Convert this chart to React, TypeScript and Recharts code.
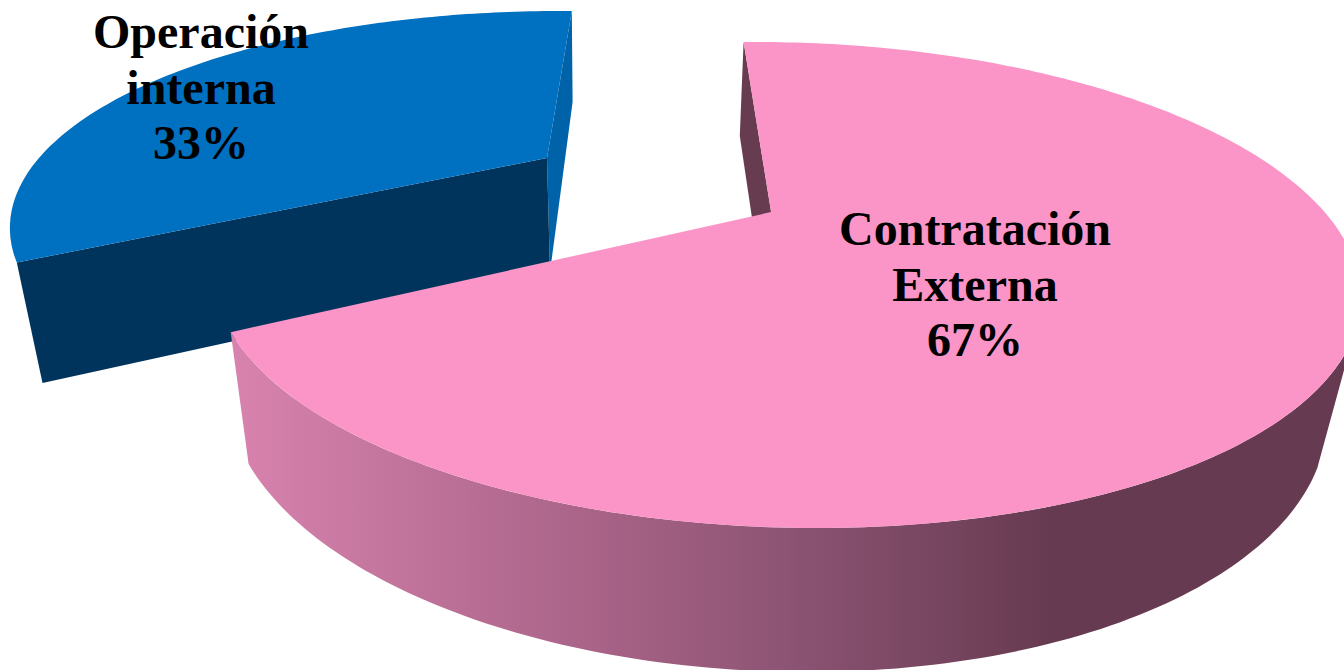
import { Pie, PieChart } from "recharts";

const categories = ["Operación interna", "Contratación Externa"];
const shares = [33, 67];
const sliceColors = ["#0070c0", "#fb95c7"];

const data = categories.map((name, i) => ({ name, value: shares[i], fill: sliceColors[i] }));

type Rim = { cx: number; cy: number; rx: number; ry: number; sk: number; px: number; py: number; rot: number; k: number };

// tilted discs: top and bottom rim of each exploded slice
const rims: Record<string, { top: Rim; low: Rim }> = {
  "Operación interna": {
    top: { cx: 570, cy: 232, rx: 560, ry: 221, sk: 10, px: -0.035, py: 0.335, rot: -5.2, k: 1.0244 },
    low: { cx: 575, cy: 337, rx: 543, ry: 235, sk: 0, px: -0.046, py: 0.277, rot: -3.8, k: 1.0126 },
  },
  "Contratación Externa": {
    top: { cx: 787, cy: 285, rx: 573, ry: 243, sk: 30, px: -0.012, py: 0.3, rot: 0, k: 1.0072 },
    low: { cx: 777, cy: 404, rx: 549, ry: 268, sk: 30, px: 0, py: 0.276, rot: 0, k: 1.0072 },
  },
};

const labelCenters: Record<string, { x: number; y: number }> = {
  "Operación interna": { x: 201, y: 48 },
  "Contratación Externa": { x: 975, y: 245 },
};

const WALL_END = -28;
const PIVOT = 91;

function project(rim: Rim, deg: number) {
  const a = ((PIVOT + (deg - PIVOT) * rim.k + rim.rot) * Math.PI) / 180;
  const x = Math.cos(a);
  const y = Math.sin(a);
  const s = Math.hypot(rim.px, rim.py);
  const ux = rim.px / s;
  const uy = rim.py / s;
  const par = x * ux + y * uy;
  const perp = -x * uy + y * ux;
  const w = 1 + s * par;
  const par2 = (par + s) / w;
  const perp2 = (perp * Math.sqrt(1 - s * s)) / w;
  const X = par2 * ux - perp2 * uy;
  const Y = par2 * uy + perp2 * ux;
  return { x: rim.cx + rim.rx * X - rim.sk * Y, y: rim.cy - rim.ry * Y };
}

function apexOf(rim: Rim) {
  return { x: rim.cx + rim.rx * rim.px - rim.sk * rim.py, y: rim.cy - rim.ry * rim.py };
}

function arc(rim: Rim, from: number, to: number) {
  const steps = Math.max(2, Math.ceil(Math.abs(to - from)));
  const pts = [];
  for (let i = 0; i <= steps; i++) {
    pts.push(project(rim, from + ((to - from) * i) / steps));
  }
  return pts;
}

function toPath(pts: { x: number; y: number }[]) {
  return "M" + pts.map((p) => `${p.x.toFixed(1)},${p.y.toFixed(1)}`).join("L") + "Z";
}

function Slice(props: any) {
  const { name, startAngle, endAngle, fill } = props;
  const { top, low } = rims[name];
  const topApex = apexOf(top);
  const lowApex = apexOf(low);
  const face = toPath([topApex, ...arc(top, startAngle, endAngle)]);
  const cutFace = toPath([
    project(top, startAngle),
    topApex,
    lowApex,
    project(low, startAngle),
  ]);

  if (name === categories[0]) {
    const frontFace = toPath([
      topApex,
      project(top, startAngle),
      project(low, startAngle),
      lowApex,
    ]);
    return (
      <g>
        <path d={toPath([project(top, endAngle), topApex, lowApex, project(low, endAngle)])} fill="#0062a8" />
        <path d={frontFace} fill="#00345c" />
        <path d={face} fill={fill} />
      </g>
    );
  }

  const wall = toPath([...arc(top, endAngle, WALL_END), ...arc(low, WALL_END, endAngle)]);
  return (
    <g>
      <defs>
        <linearGradient id="pinkWall" gradientUnits="userSpaceOnUse" x1="231" y1="0" x2="1344" y2="0">
          <stop offset="0" stopColor="#d883ae" />
          <stop offset="0.33" stopColor="#a86387" />
          <stop offset="0.51" stopColor="#8b5372" />
          <stop offset="0.74" stopColor="#663a50" />
          <stop offset="1" stopColor="#663a50" />
        </linearGradient>
      </defs>
      <path d={cutFace} fill="#683c50" />
      <path d={wall} fill="url(#pinkWall)" />
      <path d={face} fill={fill} />
    </g>
  );
}

function SliceLabel(props: any) {
  const { name, percent } = props;
  const pos = labelCenters[name];
  const lines = [...name.split(" "), `${Math.round(percent * 100)}%`];
  return (
    <text
      x={pos.x}
      y={pos.y}
      textAnchor="middle"
      fontFamily="'Liberation Serif', serif"
      fontWeight="bold"
      fontSize={48}
      fill="#000000"
    >
      {lines.map((line, i) => (
        <tspan key={line} x={pos.x} y={pos.y + i * 55.5}>
          {line}
        </tspan>
      ))}
    </text>
  );
}

export default function App() {
  return (
    <div style={{ position: "fixed", left: 0, top: 0, width: 1344, height: 670, overflow: "hidden", background: "#fff" }}>
      <PieChart width={1344} height={670} margin={{ top: 0, right: 0, bottom: 0, left: 0 }}>
        <Pie
          data={data}
          dataKey="value"
          nameKey="name"
          startAngle={209.8}
          endAngle={-150.2}
          stroke="none"
          shape={Slice}
          activeShape={Slice}
          inactiveShape={Slice}
          label={SliceLabel}
          labelLine={false}
          isAnimationActive={false}
        />
      </PieChart>
    </div>
  );
}
